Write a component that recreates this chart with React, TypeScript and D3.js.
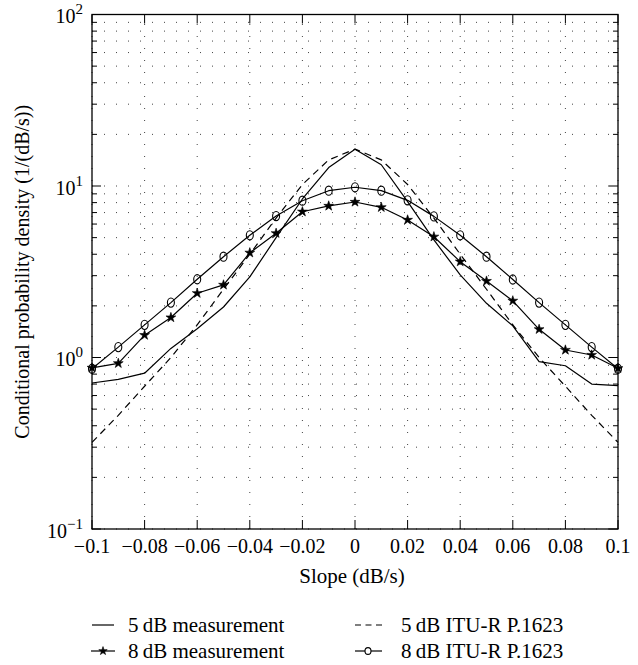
import React from "react";
import * as d3 from "d3";

// ---- data ----
const slopes = [-0.1, -0.09, -0.08, -0.07, -0.06, -0.05, -0.04, -0.03, -0.02, -0.01, 0, 0.01, 0.02, 0.03, 0.04, 0.05, 0.06, 0.07, 0.08, 0.09, 0.1];
const meas5dB = [0.71, 0.745, 0.81, 1.13, 1.47, 1.97, 2.95, 5.0, 8.4, 12.8, 16.4, 13.3, 8.1, 4.85, 3.03, 2.07, 1.53, 0.945, 0.895, 0.7, 0.685];
const meas8dB = [0.87, 0.925, 1.35, 1.71, 2.37, 2.65, 4.08, 5.3, 7.08, 7.65, 8.07, 7.51, 6.34, 5.06, 3.62, 2.79, 2.14, 1.46, 1.106, 1.034, 0.865];
const itu5dB = [0.32, 0.46, 0.68, 1.0, 1.55, 2.5, 4.0, 6.5, 10.2, 14.2, 16.4, 14.2, 10.2, 6.5, 4.0, 2.5, 1.55, 1.0, 0.68, 0.46, 0.32];
const itu8dB = [0.86, 1.15, 1.55, 2.09, 2.86, 3.87, 5.16, 6.68, 8.21, 9.39, 9.83, 9.39, 8.25, 6.65, 5.16, 3.87, 2.85, 2.09, 1.55, 1.15, 0.86];

const xTicks = [-0.1, -0.08, -0.06, -0.04, -0.02, 0, 0.02, 0.04, 0.06, 0.08, 0.1];
const xTickLabels = ["\u22120.1", "\u22120.08", "\u22120.06", "\u22120.04", "\u22120.02", "0", "0.02", "0.04", "0.06", "0.08", "0.1"];
const yDecades = [0.1, 1, 10, 100];
const yDecadeExps = ["\u22121", "0", "1", "2"];
const minorMultipliers = [2, 3, 4, 5, 6, 7, 8, 9];

const xLabel = "Slope (dB/s)";
const yLabel = "Conditional probability density (1/(dB/s))";
const legendLabels = ["5\u2009dB measurement", "8\u2009dB measurement", "5\u2009dB ITU-R P.1623", "8\u2009dB ITU-R P.1623"];

const W = 638;
const H = 665;
const FONT = "'Liberation Serif', 'Times New Roman', serif";

export default function App() {
  const x = d3.scaleLinear().domain([-0.1, 0.1]).range([92, 618]);
  const y = d3.scaleLog().domain([0.1, 100]).range([529, 14.5]);
  const [x0, x1] = x.range();
  const [y0, y1] = y.range();

  const minorY: number[] = [];
  yDecades.slice(0, 3).forEach((d) => minorMultipliers.forEach((m) => minorY.push(d * m)));
  const allY = [...yDecades, ...minorY];

  const line = d3
    .line<number>()
    .x((_, i) => x(slopes[i]))
    .y((v) => y(v));

  const star = d3.symbol().type(d3.symbolStar).size(30)() as string;
  const starSmall = d3.symbol().type(d3.symbolStar).size(22)() as string;

  const lineStroke = 1.2;

  return (
    <div style={{ position: "absolute", left: 0, top: 0 }}>
      <svg width={W} height={H} style={{ display: "block", background: "#fff" }} fontFamily={FONT}>
        {/* grid */}
        <g stroke="#444" strokeWidth={1} strokeDasharray="1 11" fill="none">
          {allY.map((v, i) => (
            <line key={"gy" + i} x1={x0} x2={x1} y1={y(v)} y2={y(v)} />
          ))}
          {xTicks.map((t, i) => (
            <line key={"gx" + i} x1={x(t)} x2={x(t)} y1={y0} y2={y1} />
          ))}
        </g>

        {/* ticks */}
        <g stroke="#000" strokeWidth={1}>
          {xTicks.map((t, i) => (
            <g key={"tx" + i}>
              <line x1={x(t)} x2={x(t)} y1={y0} y2={y0 - 9} />
              <line x1={x(t)} x2={x(t)} y1={y1} y2={y1 + 9} />
            </g>
          ))}
          {yDecades.map((v, i) => (
            <g key={"ty" + i}>
              <line x1={x0} x2={x0 + 9} y1={y(v)} y2={y(v)} />
              <line x1={x1} x2={x1 - 9} y1={y(v)} y2={y(v)} />
            </g>
          ))}
          {minorY.map((v, i) => (
            <g key={"tm" + i}>
              <line x1={x0} x2={x0 + 5} y1={y(v)} y2={y(v)} />
              <line x1={x1} x2={x1 - 5} y1={y(v)} y2={y(v)} />
            </g>
          ))}
        </g>

        {/* series */}
        <g fill="none" stroke="#000" strokeWidth={lineStroke} strokeLinejoin="round">
          <path d={line(meas5dB) as string} />
          <path d={line(itu5dB) as string} strokeDasharray="7 5" />
          <path d={line(meas8dB) as string} />
          <path d={line(itu8dB) as string} />
        </g>
        <g fill="#000" stroke="#000" strokeWidth={0.6}>
          {meas8dB.map((v, i) => (
            <path key={"s" + i} d={star} transform={`translate(${x(slopes[i])},${y(v)})`} />
          ))}
        </g>
        <g fill="none" stroke="#000" strokeWidth={1.1}>
          {itu8dB.map((v, i) => (
            <ellipse key={"c" + i} cx={x(slopes[i])} cy={y(v)} rx={3.5} ry={4.6} />
          ))}
        </g>

        {/* axes box */}
        <rect x={x0} y={y1} width={x1 - x0} height={y0 - y1} fill="none" stroke="#000" strokeWidth={1.3} />

        {/* x tick labels */}
        <g fontSize={20} fill="#000" textAnchor="middle">
          {xTicks.map((t, i) => (
            <text key={"xl" + i} x={x(t)} y={553}>
              {xTickLabels[i]}
            </text>
          ))}
        </g>

        {/* y tick labels */}
        <g fontSize={20} fill="#000" textAnchor="end">
          {yDecades.map((v, i) => (
            <text key={"yl" + i} x={83} y={y(v) + 8.5}>
              10
              <tspan dy={-9} fontSize={15}>
                {yDecadeExps[i]}
              </tspan>
            </text>
          ))}
        </g>

        {/* axis labels */}
        <text x={352} y={583} fontSize={21} textAnchor="middle" fill="#000">
          {xLabel}
        </text>
        <text transform={`translate(29,${(y0 + y1) / 2}) rotate(-90)`} fontSize={20} textAnchor="middle" fill="#000">
          {yLabel}
        </text>

        {/* legend */}
        <g fontSize={21} fill="#000">
          <line x1={92} x2={114} y1={625} y2={625} stroke="#000" strokeWidth={lineStroke} />
          <text x={128} y={632}>{legendLabels[0]}</text>

          <line x1={91} x2={115} y1={651} y2={651} stroke="#000" strokeWidth={lineStroke} />
          <path d={starSmall} transform="translate(103,651)" fill="#000" stroke="#000" strokeWidth={0.6} />
          <text x={128} y={658}>{legendLabels[1]}</text>

          <line x1={355} x2={382} y1={625} y2={625} stroke="#000" strokeWidth={lineStroke} strokeDasharray="6 4.5" />
          <text x={401} y={632}>{legendLabels[2]}</text>

          <line x1={355} x2={382} y1={651} y2={651} stroke="#000" strokeWidth={lineStroke} />
          <ellipse cx={368} cy={651} rx={3} ry={3.4} fill="#fff" stroke="#000" strokeWidth={1.1} />
          <text x={401} y={658}>{legendLabels[3]}</text>
        </g>
      </svg>
    </div>
  );
}
